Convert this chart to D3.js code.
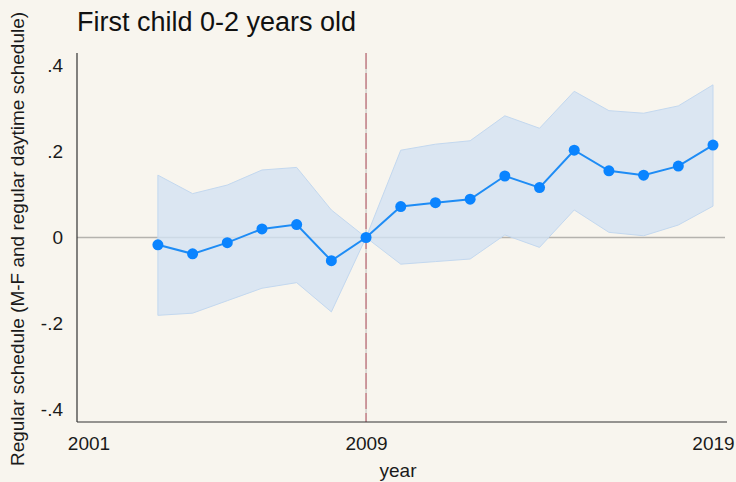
<!DOCTYPE html>
<html>
<head>
<meta charset="utf-8">
<script src="https://cdn.jsdelivr.net/npm/d3@7"></script>
<style>
  body { margin: 0; background: #f8f5ee; }
  svg { display: block; font-family: "Liberation Sans", Arial, sans-serif; }
</style>
</head>
<body>
<svg id="chart"></svg>
<script>
var years = [2003, 2004, 2005, 2006, 2007, 2008, 2009, 2010, 2011, 2012, 2013, 2014, 2015, 2016, 2017, 2018, 2019]
var coef  = [-0.017, -0.038, -0.012, 0.020, 0.030, -0.054, 0, 0.072, 0.081, 0.089, 0.143, 0.116, 0.203, 0.155, 0.145, 0.166, 0.215]
var upper = [0.145, 0.102, 0.122, 0.157, 0.163, 0.064, 0, 0.203, 0.217, 0.225, 0.283, 0.254, 0.340, 0.295, 0.289, 0.306, 0.355]
var lower = [-0.181, -0.176, -0.147, -0.118, -0.105, -0.173, 0, -0.062, -0.056, -0.050, 0.006, -0.023, 0.064, 0.012, 0.004, 0.029, 0.073]

var xTicks = [2001, 2009, 2019]
var yTicks = [0.4, 0.2, 0, -0.2, -0.4]
var yTickLabels = [".4", ".2", "0", "-.2", "-.4"]
var eventYear = 2009

var width = 736, height = 482

var svg = d3.select("#chart")
  .attr("width", width)
  .attr("height", height)

svg.append("rect")
  .attr("width", width)
  .attr("height", height)
  .attr("fill", "#f8f5ee")

var x = d3.scaleLinear()
  .domain([2001, 2019])
  .range([88.5, 713])

var y = d3.scaleLinear()
  .domain([-0.4, 0.4])
  .range([409.5, 65.5])

var plot = { left: 77, right: 727, top: 53, bottom: 422 }

var rows = years.map(function(d, i){ return { year: d, b: coef[i], hi: upper[i], lo: lower[i] } })

// zero line
svg.append("line")
  .attr("x1", plot.left).attr("x2", 725)
  .attr("y1", y(0)).attr("y2", y(0))
  .attr("stroke", "#b5b3ae")
  .attr("stroke-width", 1.5)

// confidence band
var area = d3.area()
  .x(function(d){ return x(d.year) })
  .y0(function(d){ return y(d.lo) })
  .y1(function(d){ return y(d.hi) })

svg.append("path")
  .datum(rows)
  .attr("d", area)
  .attr("fill", "#d3e2f2")
  .attr("fill-opacity", 0.8)
  .attr("stroke", "#c3d8ef")
  .attr("stroke-width", 1)

// event line
svg.append("line")
  .attr("x1", x(eventYear)).attr("x2", x(eventYear))
  .attr("y1", plot.top).attr("y2", plot.bottom)
  .attr("stroke", "#d2d2cc")
  .attr("stroke-width", 1.5)
svg.append("line")
  .attr("x1", x(eventYear)).attr("x2", x(eventYear))
  .attr("y1", plot.top).attr("y2", plot.bottom)
  .attr("stroke", "#c7838a")
  .attr("stroke-width", 1.5)
  .attr("stroke-dasharray", "16,4")

// estimates
var line = d3.line()
  .x(function(d){ return x(d.year) })
  .y(function(d){ return y(d.b) })

svg.append("path")
  .datum(rows)
  .attr("d", line)
  .attr("fill", "none")
  .attr("stroke", "#1e8cf5")
  .attr("stroke-width", 2)

svg.selectAll("circle.pt")
  .data(rows)
  .enter()
  .append("circle")
    .attr("class", "pt")
    .attr("cx", function(d){ return x(d.year) })
    .attr("cy", function(d){ return y(d.b) })
    .attr("r", 5.5)
    .attr("fill", "#0a84ff")

// axes
var yAxis = svg.append("g")
  .attr("transform", `translate(${plot.left},0)`)
  .call(d3.axisLeft(y)
    .tickValues(yTicks)
    .tickFormat(function(d, i){ return yTickLabels[i] })
    .tickSize(0)
    .tickPadding(14))
yAxis.select(".domain").remove()
yAxis.selectAll("text")
  .style("font-size", "19px")
  .attr("fill", "#1a1a1a")

var xAxis = svg.append("g")
  .attr("transform", `translate(0,${plot.bottom})`)
  .call(d3.axisBottom(x)
    .tickValues(xTicks)
    .tickFormat(d3.format("d"))
    .tickSize(0)
    .tickPadding(15))
xAxis.select(".domain").remove()
xAxis.selectAll("text")
  .style("font-size", "19px")
  .attr("fill", "#1a1a1a")

svg.append("line")
  .attr("x1", plot.left).attr("x2", plot.left)
  .attr("y1", plot.top).attr("y2", plot.bottom)
  .attr("stroke", "#333")
  .attr("stroke-width", 1.2)
svg.append("line")
  .attr("x1", plot.left).attr("x2", plot.right)
  .attr("y1", plot.bottom).attr("y2", plot.bottom)
  .attr("stroke", "#333")
  .attr("stroke-width", 1.2)

// titles
svg.append("text")
  .attr("x", 77)
  .attr("y", 31)
  .style("font-size", "27px")
  .attr("fill", "#111")
  .text("First child 0-2 years old")

svg.append("text")
  .attr("x", 398)
  .attr("y", 477)
  .attr("text-anchor", "middle")
  .style("font-size", "19px")
  .attr("fill", "#1a1a1a")
  .text("year")

svg.append("text")
  .attr("transform", "translate(24,239)rotate(-90)")
  .attr("text-anchor", "middle")
  .style("font-size", "19px")
  .attr("fill", "#1a1a1a")
  .text("Regular schedule (M-F and regular daytime schedule)")
</script>
</body>
</html>
